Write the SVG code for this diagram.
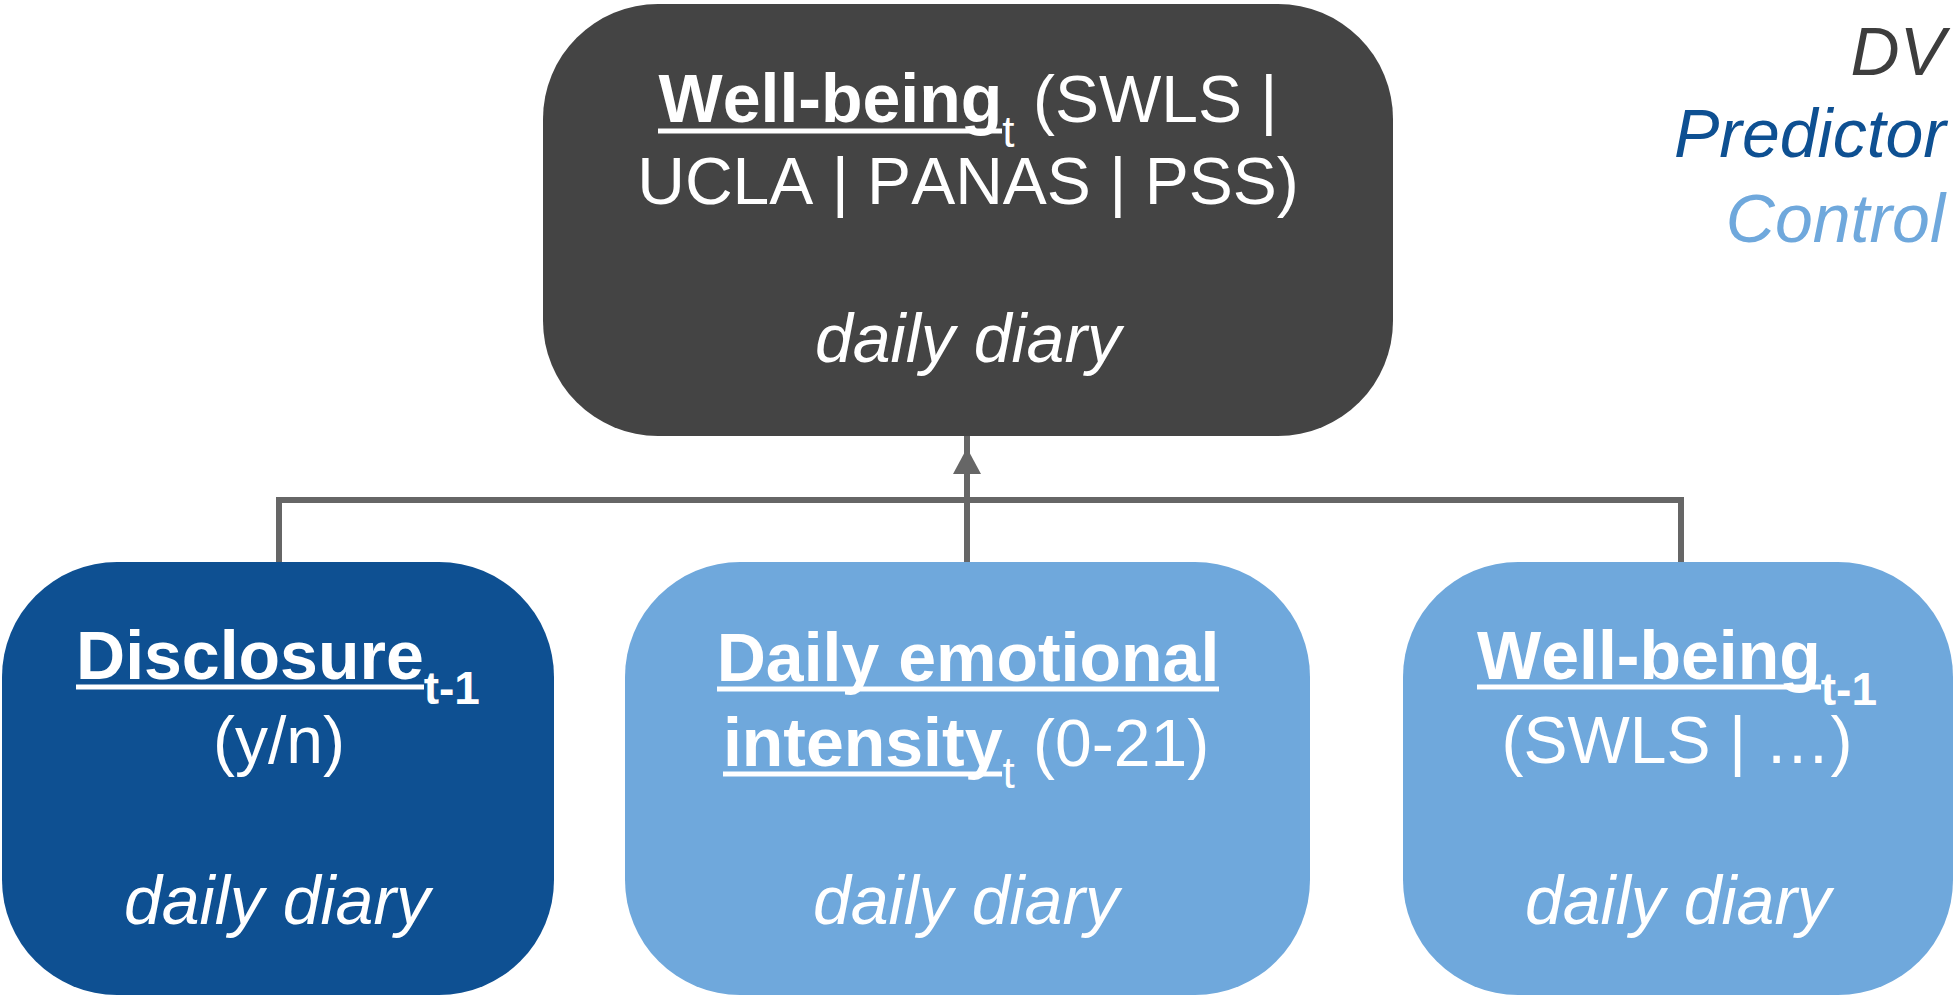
<svg xmlns="http://www.w3.org/2000/svg" width="1955" height="998" viewBox="0 0 1955 998">
<style>
text{font-family:"Liberation Sans",Arial,Helvetica,sans-serif;fill:#ffffff;font-size:66px;font-kerning:none}
.c{text-anchor:middle}
.b{font-weight:bold;font-size:68px}
.i{font-style:italic;font-size:68px}
.s{font-size:44px}
.sb{font-size:46px;font-weight:bold}
.ul{stroke:#ffffff;stroke-width:5}
.conn{fill:none;stroke:#666666;stroke-width:6}
.leg{font-style:italic;font-size:68px;text-anchor:end}
</style>
<defs>
<marker id="arr" markerUnits="userSpaceOnUse" viewBox="0 -15 40 30" markerWidth="40" markerHeight="30" refX="0" refY="0" orient="auto" overflow="visible">
<rect x="0" y="-3" width="39" height="6" fill="#666666"/>
<polygon points="0,-14 26,0 0,14" fill="#666666"/>
</marker>
</defs>
<g id="connectors">
<path class="conn" d="M279 562 V500 H1681 V562"/>
<path class="conn" d="M967 562 V474" marker-end="url(#arr)"/>
</g>
<g id="node-wellbeing-t">
<rect x="543" y="4" width="850" height="432" rx="115" ry="115" fill="#444444"/>
<text class="c" x="968" y="122"><tspan class="b">Well-being</tspan><tspan class="s" dy="25">t</tspan><tspan dy="-25"> (SWLS |</tspan></text>
<line class="ul" x1="658" y1="131" x2="1002" y2="131"/>
<text class="c" x="968" y="204">UCLA | PANAS | PSS)</text>
<text class="c i" x="968" y="362">daily diary</text>
</g>
<g id="node-disclosure">
<rect x="2" y="562" width="552" height="433" rx="115" ry="115" fill="#0e5092"/>
<text class="c" x="278" y="679"><tspan class="b">Disclosure</tspan><tspan class="sb" dy="25">t-1</tspan></text>
<line class="ul" x1="76" y1="687" x2="424" y2="687"/>
<text class="c" x="279" y="763">(y/n)</text>
<text class="c i" x="277" y="924">daily diary</text>
</g>
<g id="node-emotional-intensity">
<rect x="625" y="562" width="685" height="433" rx="115" ry="115" fill="#6fa8dc"/>
<text class="c b" x="968" y="681">Daily emotional</text>
<line class="ul" x1="717" y1="689" x2="1219" y2="689"/>
<text class="c" x="966" y="766"><tspan class="b">intensity</tspan><tspan class="s" dy="22">t</tspan><tspan dy="-22"> (0-21)</tspan></text>
<line class="ul" x1="723" y1="774" x2="1002" y2="774"/>
<text class="c i" x="966" y="924">daily diary</text>
</g>
<g id="node-wellbeing-t1">
<rect x="1403" y="562" width="550" height="433" rx="115" ry="115" fill="#6fa8dc"/>
<text class="c" x="1677" y="679"><tspan class="b">Well-being</tspan><tspan class="sb" dy="26">t-1</tspan></text>
<line class="ul" x1="1477" y1="687" x2="1821" y2="687"/>
<text class="c" x="1677" y="763">(SWLS | …)</text>
<text class="c i" x="1678" y="924">daily diary</text>
</g>
<g id="legend">
<text class="leg" x="1945" y="75" style="fill:#3d3d3d">DV</text>
<text class="leg" x="1946" y="157" style="fill:#0e5092">Predictor</text>
<text class="leg" x="1945" y="242" style="fill:#6fa8dc">Control</text>
</g>
</svg>
